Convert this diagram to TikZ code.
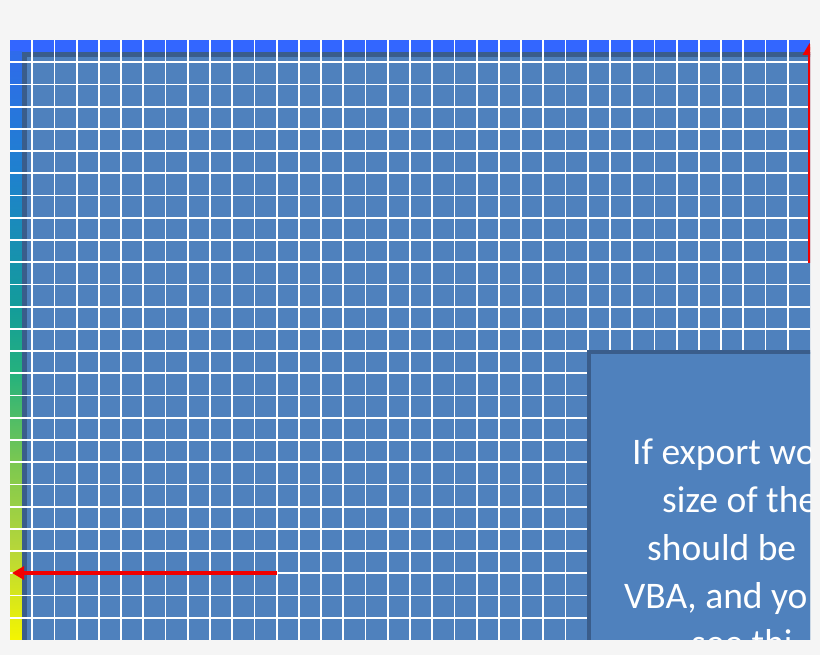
\documentclass[tikz,border=0pt]{standalone}
\usepackage{fontspec}
\setmainfont{Carlito}
\usetikzlibrary{arrows.meta}

\definecolor{pagegray}{HTML}{F5F5F5}
\definecolor{slideblue}{HTML}{4F81BD}
\definecolor{slideedge}{HTML}{3A5D8B}
\definecolor{topbar}{HTML}{3366FF}
\definecolor{markred}{HTML}{F00000}
\definecolor{barB}{HTML}{2F6BEB}
\definecolor{barBT}{HTML}{1E82CC}
\definecolor{barT}{HTML}{139C9A}
\definecolor{barG}{HTML}{26B27C}
\definecolor{barLG}{HTML}{7CC850}
\definecolor{barYG}{HTML}{B5D63A}
\definecolor{barY}{HTML}{F5F500}

\pgfdeclareverticalshading{scalebar}{100bp}{color(0bp)=(barY); color(25bp)=(barY);
  color(32.9bp)=(barYG); color(40bp)=(barLG); color(47.5bp)=(barG);
  color(53.3bp)=(barT); color(64.2bp)=(barBT); color(75bp)=(barB); color(100bp)=(barB)}

\begin{document}
\begin{tikzpicture}[
  x=1pt,y=-1pt,
  gridline/.style={white,line width=1.8pt},
  panel/.style={fill=slideblue,draw=slideedge},
  textline/.style={anchor=base west,inner sep=0pt,text=white,
    font=\fontsize{37.5}{48}\selectfont},
  marker/.style={markred,line width=4pt,-{Triangle[length=12pt,width=13pt]}}
]
\fill[pagegray] (0,0) rectangle (820,655);
\useasboundingbox (0,0) rectangle (820,655);

\begin{scope}
\clip (10,40) rectangle (810,639.5);
% frame around the plot area
\fill[topbar] (10,40) rectangle (810,52);
\shade[shading=scalebar] (10,52) rectangle (22,640);
\draw[panel,line width=5pt] (24.5,54.5) rectangle (900,720);

% grid
\foreach \i in {1,...,35}
  \draw[gridline] ({10+\i*22.2222},40) -- ({10+\i*22.2222},640);
\foreach \j in {1,...,26}
  \draw[gridline] (10,{40+\j*22.2222}) -- (810,{40+\j*22.2222});

% note box
\draw[panel,line width=4pt] (589,352) rectangle (900,720);
\node[textline] (l1) at (632,464) {If export wo};
\node[textline] (l2) at (662,512) {size of the};
\node[textline] (l3) at (647,560) {should be};
\node[textline] (l4) at (624,608) {VBA, and yo};
\node[textline] (l5) at (691,655) {see thi};

% red markers
\coordinate (hstart) at (277,573);
\coordinate (hend) at (12,573);
\coordinate (vstart) at (809.5,263);
\coordinate (vend) at (809.5,43);
\draw[marker] (hstart) -- (hend);
\draw[marker] (vstart) -- (vend);
\end{scope}
\end{tikzpicture}
\end{document}
